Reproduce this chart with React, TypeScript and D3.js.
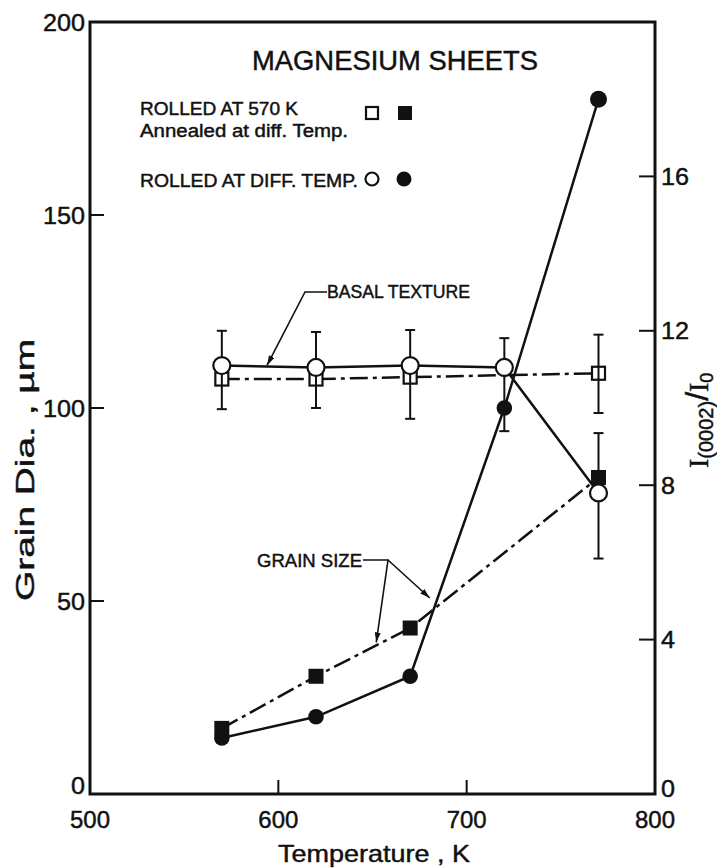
import * as d3 from 'd3';

// Basal texture, I(0002)/I0 (right axis)
const basalCircleTemps = [570, 620, 670, 720, 770];
const basalCircleVals = [11.1, 11.05, 11.1, 11.05, 7.8];
const basalSquareTemps = [570, 620, 670, 770];
const basalSquareVals = [10.75, 10.75, 10.8, 10.9];

// Error bars on the texture values (right axis)
const errTemps = [570, 620, 670, 720, 770, 770];
const errLow = [9.97, 10.0, 9.72, 9.4, 9.87, 6.1];
const errHigh = [12.0, 11.97, 12.02, 11.81, 11.9, 9.35];

// Grain size, µm (left axis)
const grainSquareTemps = [570, 620, 670, 770];
const grainSquareVals = [17, 30.5, 43, 82];
const grainCircleTemps = [570, 620, 670, 720, 770];
const grainCircleVals = [14.5, 20, 30.5, 100, 180];

const xTicks = [500, 600, 700, 800];
const leftTicks = [0, 50, 100, 150, 200];
const rightTicks = [0, 4, 8, 12, 16];

const W = 717;
const H = 868;
const plot = { left: 90, right: 655, top: 22, bottom: 794 };
const INK = '#111';
const FONT = "'Liberation Sans', 'DejaVu Sans', sans-serif";
const SERIF = "'Liberation Serif', 'DejaVu Serif', serif";
const DASH = '18,5,4,5';

export default function App() {
  const x = d3.scaleLinear().domain([500, 800]).range([plot.left, plot.right]);
  const yL = d3.scaleLinear().domain([0, 200]).range([plot.bottom, plot.top]);
  const yR = d3.scaleLinear().domain([0, 20]).range([plot.bottom, plot.top]);

  const line = d3.line<[number, number]>().x(d => d[0]).y(d => d[1]);

  const basalCircles = basalCircleTemps.map((t, i) => [x(t), yR(basalCircleVals[i])] as [number, number]);
  const basalSquares = basalSquareTemps.map((t, i) => [x(t), yR(basalSquareVals[i])] as [number, number]);
  const grainSquares = grainSquareTemps.map((t, i) => [x(t), yL(grainSquareVals[i])] as [number, number]);
  const grainCircles = grainCircleTemps.map((t, i) => [x(t), yL(grainCircleVals[i])] as [number, number]);

  // leader arrow tips, placed on the curves they point to
  const basalTip: [number, number] = [x(594), yR(11.05)];
  const grainTip1: [number, number] = [x(652), yL(38.5)];
  const grainTip2: [number, number] = [x(682), yL(50)];

  const tickLen = 14;
  const txt = { stroke: INK, strokeWidth: 0.45 };

  return (
    <svg width={W} height={H} style={{ position: 'absolute', left: 0, top: 0, background: '#fff' }}
      fontFamily={FONT} fill={INK}>
      <defs>
        <marker id="arr" viewBox="0 0 10 6" refX="10" refY="3" markerWidth="10" markerHeight="6"
          markerUnits="userSpaceOnUse" orient="auto">
          <path d="M0,0 L10,3 L0,6 Z" fill={INK} />
        </marker>
      </defs>

      {/* frame */}
      <rect x={plot.left} y={plot.top} width={plot.right - plot.left} height={plot.bottom - plot.top}
        fill="none" stroke={INK} strokeWidth={3} />

      {/* left ticks */}
      {leftTicks.map(v => (
        <g key={'l' + v}>
          {v > 0 && v < 200 && (
            <line x1={plot.left} x2={plot.left + tickLen} y1={yL(v)} y2={yL(v)} stroke={INK} strokeWidth={2} />
          )}
          <text x={plot.left - 5} y={yL(v) + (v === 0 ? -9 : 0)} textAnchor="end" dominantBaseline="central"
            fontSize={24} textLength={String(v).length * 14} lengthAdjust="spacingAndGlyphs" {...txt}>{v}</text>
        </g>
      ))}

      {/* right ticks */}
      {rightTicks.map(v => (
        <g key={'r' + v}>
          {v > 0 && (
            <line x1={plot.right - tickLen - 2} x2={plot.right} y1={yR(v)} y2={yR(v)} stroke={INK} strokeWidth={2} />
          )}
          <text x={plot.right + 6} y={yR(v) + (v === 0 ? -6 : 0)} textAnchor="start" dominantBaseline="central"
            fontSize={24} textLength={String(v).length * 14} lengthAdjust="spacingAndGlyphs" {...txt}>{v}</text>
        </g>
      ))}

      {/* bottom ticks */}
      {xTicks.map(v => (
        <g key={'b' + v}>
          {v > 500 && v < 800 && (
            <line x1={x(v)} x2={x(v)} y1={plot.bottom} y2={plot.bottom - tickLen} stroke={INK} strokeWidth={2} />
          )}
          <text x={x(v)} y={plot.bottom + 34} textAnchor="middle" fontSize={24}
            textLength={40} lengthAdjust="spacingAndGlyphs" {...txt}>{v}</text>
        </g>
      ))}

      {/* axis titles */}
      <text x={374} y={862} textAnchor="middle" fontSize={24} textLength={192} lengthAdjust="spacingAndGlyphs" {...txt}>
        Temperature , K
      </text>
      <text transform={`translate(34, 470) rotate(-90)`} textAnchor="middle" fontSize={25}
        textLength={262} lengthAdjust="spacingAndGlyphs" {...txt}>
        Grain Dia. , µm
      </text>
      <text transform={`translate(708, 468) rotate(-90)`} {...txt}>
        <tspan fontFamily={SERIF} fontSize={28}>I</tspan>
        <tspan fontSize={20} dy={5}>(0002)</tspan>
        <tspan fontSize={32} dy={-5}>/</tspan>
        <tspan fontFamily={SERIF} fontSize={28}>I</tspan>
        <tspan fontSize={18} dy={5}>0</tspan>
      </text>

      {/* title and legend */}
      <text x={252} y={70} fontSize={27} textLength={286} lengthAdjust="spacingAndGlyphs" {...txt}>MAGNESIUM SHEETS</text>
      <text x={140} y={115} fontSize={18} textLength={158} lengthAdjust="spacingAndGlyphs" {...txt}>ROLLED AT 570 K</text>
      <text x={140} y={137} fontSize={18} textLength={208} lengthAdjust="spacingAndGlyphs" {...txt}>Annealed at diff. Temp.</text>
      <text x={140} y={187} fontSize={18} textLength={218} lengthAdjust="spacingAndGlyphs" {...txt}>ROLLED AT DIFF. TEMP.</text>
      <rect x={372 - 6} y={113 - 6} width={12} height={12} fill="#fff" stroke={INK} strokeWidth={2.2} />
      <rect x={405 - 7} y={113 - 7} width={14} height={14} fill={INK} />
      <circle cx={372} cy={179} r={6.5} fill="#fff" stroke={INK} strokeWidth={2.2} />
      <circle cx={404} cy={179} r={7.5} fill={INK} />

      {/* annotations */}
      <text x={327} y={298} fontSize={18} textLength={143} lengthAdjust="spacingAndGlyphs" {...txt}>BASAL TEXTURE</text>
      <path d={`M327,292 L305,292 L${basalTip[0]},${basalTip[1] - 2}`} fill="none" stroke={INK}
        strokeWidth={1.6} markerEnd="url(#arr)" />
      <text x={257} y={567} fontSize={18} textLength={105} lengthAdjust="spacingAndGlyphs" {...txt}>GRAIN SIZE</text>
      <path d={`M363,560 L388,560 L${grainTip1[0]},${grainTip1[1] - 3}`} fill="none" stroke={INK}
        strokeWidth={1.6} markerEnd="url(#arr)" />
      <path d={`M388,560 L${grainTip2[0] - 3},${grainTip2[1] - 3}`} fill="none" stroke={INK}
        strokeWidth={1.6} markerEnd="url(#arr)" />

      {/* basal texture: rolled at 570 K, annealed (open squares, dash-dot) */}
      <path d={line(basalSquares) ?? ''} fill="none" stroke={INK} strokeWidth={2.5} strokeDasharray={DASH} />
      {basalSquares.map((p, i) => (
        <rect key={'bs' + i} x={p[0] - 6.5} y={p[1] - 6.5} width={13} height={13} fill="#fff"
          stroke={INK} strokeWidth={2.2} />
      ))}

      {/* error bars */}
      {errTemps.map((t, i) => {
        const cx = x(t);
        return (
          <g key={'e' + i} stroke={INK} strokeWidth={2}>
            <line x1={cx} x2={cx} y1={yR(errLow[i])} y2={yR(errHigh[i])} />
            <line x1={cx - 5} x2={cx + 5} y1={yR(errLow[i])} y2={yR(errLow[i])} />
            <line x1={cx - 5} x2={cx + 5} y1={yR(errHigh[i])} y2={yR(errHigh[i])} />
          </g>
        );
      })}

      {/* grain size: rolled at 570 K, annealed (filled squares, dash-dot) */}
      <path d={line(grainSquares) ?? ''} fill="none" stroke={INK} strokeWidth={2.5} strokeDasharray={DASH} />
      {grainSquares.map((p, i) => (
        <rect key={'gs' + i} x={p[0] - 7.5} y={p[1] - 7.5} width={15} height={15} fill={INK} />
      ))}

      {/* grain size: rolled at different temperatures (filled circles) */}
      <path d={line(grainCircles) ?? ''} fill="none" stroke={INK} strokeWidth={2.5} />
      {grainCircles.map((p, i) => (
        <circle key={'gc' + i} cx={p[0]} cy={p[1]} r={i === 4 ? 8.5 : 7.8} fill={INK} />
      ))}

      {/* basal texture: rolled at different temperatures (open circles) */}
      <path d={line(basalCircles) ?? ''} fill="none" stroke={INK} strokeWidth={2.5} />
      {basalCircles.map((p, i) => (
        <circle key={'bc' + i} cx={p[0]} cy={p[1]} r={8.5} fill="#fff" stroke={INK} strokeWidth={2.2} />
      ))}
    </svg>
  );
}
